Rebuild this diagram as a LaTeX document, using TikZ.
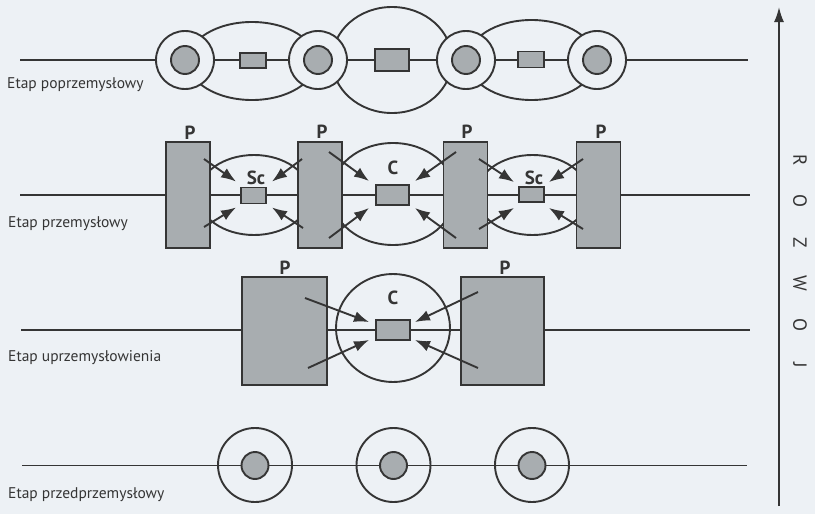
\documentclass[tikz,border=0pt]{standalone}
\usepackage{fontspec}
\setmainfont{PT Sans}
\usetikzlibrary{arrows.meta,calc,shapes.geometric}
\definecolor{bg}{HTML}{EDF1F5}
\definecolor{ink}{HTML}{353535}
\definecolor{shade}{HTML}{A8ADB0}
\begin{document}
\begin{tikzpicture}[x=1pt,y=-1pt,
  ln/.style={draw=ink, line width=1.9pt},
  oval/.style={ellipse, draw=ink, line width=1.9pt, inner sep=0pt},
  ringw/.style={circle, draw=ink, fill=bg, line width=1.9pt, inner sep=0pt, minimum size=#1},
  ring/.style={circle, draw=ink, line width=1.9pt, inner sep=0pt, minimum size=#1},
  core/.style={circle, draw=ink, fill=shade, line width=1.9pt, inner sep=0pt, minimum size=#1},
  box/.style={rectangle, draw=ink, fill=shade, line width=1.9pt, inner sep=0pt},
  arr/.style={draw=ink, line width=1.9pt, -{Latex[length=15pt,width=11pt]}},
  lab/.style={anchor=base west, text=ink, inner sep=0pt, font=\fontsize{15.5}{17}\selectfont},
  plab/.style={text=ink, inner sep=0pt, font=\bfseries\fontsize{19}{21}\selectfont}
]
\fill[bg] (0,0) rectangle (815,514);
\useasboundingbox (0,0) rectangle (815,514);

% ---------- Row 1: Etap poprzemyslowy ----------
\coordinate (a1) at (20,60);
\coordinate (b1) at (748,60);
\draw[ln] (a1) -- (b1);
\node[oval, minimum width=128, minimum height=78] (e11) at (252,61) {};
\node[oval, minimum width=120, minimum height=106] (e12) at (392,60) {};
\node[oval, minimum width=128, minimum height=80] (e13) at (531.5,60) {};
\foreach \i/\x in {1/185,2/318,3/466,4/597}{
  \node[ringw=58] (o1\i) at (\x,60) {};
  \node[core=28] (k1\i) at (\x,60) {};
}
\node[box, minimum width=26, minimum height=15] (r11) at (253,60.5) {};
\node[box, minimum width=34, minimum height=22] (r12) at (392,60) {};
\node[box, minimum width=26, minimum height=16] (r13) at (531,59.5) {};
\node[lab] (t1) at (7,88) {Etap poprzemysłowy};

% ---------- Row 2: Etap przemyslowy ----------
\coordinate (a2) at (20,195);
\coordinate (b2) at (750,195);
\draw[ln] (a2) -- (b2);
\node[oval, minimum width=112, minimum height=80] (e21) at (254,195) {};
\node[oval, minimum width=124, minimum height=102] (e22) at (393,194) {};
\node[oval, minimum width=112, minimum height=80] (e23) at (532.5,195) {};
\foreach \i/\x in {1/188,2/320,3/465.5,4/598.5}{
  \node[box, minimum width=44, minimum height=106] (p2\i) at (\x,195) {};
}
\node[plab] (pl21) at (190,133) {P};
\node[plab] (pl22) at (322,132) {P};
\node[plab] (pl23) at (467,132) {P};
\node[plab] (pl24) at (601,132) {P};
\node[box, minimum width=25, minimum height=16] (sc1) at (253.5,195.5) {};
\node[box, minimum width=33, minimum height=20] (c2) at (392.5,195) {};
\node[box, minimum width=25, minimum height=15] (sc2) at (531.5,194.5) {};
\node[plab] (lsc1) at (256,178) {Sc};
\node[plab] (lc2) at (393,168) {C};
\node[plab] (lsc2) at (534,178) {Sc};
% arrows row 2
\coordinate (s1a) at (204,159); \coordinate (s1b) at (204,227);
\coordinate (s1c) at (302,159); \coordinate (s1d) at (303,228);
\coordinate (s2a) at (329,152); \coordinate (s2b) at (329,238);
\coordinate (s2c) at (456,152); \coordinate (s2d) at (456,238);
\coordinate (s3a) at (479,159); \coordinate (s3b) at (479,229);
\coordinate (s3c) at (583,159); \coordinate (s3d) at (583,229);
\draw[arr] (s1a) -- ($(sc1.north west)+(-4,-5)$);
\draw[arr] (s1b) -- ($(sc1.south west)+(-4,3)$);
\draw[arr] (s1c) -- ($(sc1.north east)+(5,-5)$);
\draw[arr] (s1d) -- ($(sc1.south east)+(5,3)$);
\draw[arr] (s2a) -- ($(c2.north west)+(-6,-3)$);
\draw[arr] (s2b) -- ($(c2.south west)+(-6,2)$);
\draw[arr] (s2c) -- ($(c2.north east)+(5,-3)$);
\draw[arr] (s2d) -- ($(c2.south east)+(5,2)$);
\draw[arr] (s3a) -- ($(sc2.north west)+(-4,-4)$);
\draw[arr] (s3b) -- ($(sc2.south west)+(-4,5)$);
\draw[arr] (s3c) -- ($(sc2.north east)+(4,-4)$);
\draw[arr] (s3d) -- ($(sc2.south east)+(4,5)$);
\node[lab] (t2) at (8,227) {Etap przemysłowy};

% ---------- Row 3: Etap uprzemyslowienia ----------
\coordinate (a3) at (21,330);
\coordinate (b3) at (750,330);
\draw[ln] (a3) -- (b3);
\node[oval, minimum width=114, minimum height=108] (e31) at (393,328) {};
\node[box, minimum width=85, minimum height=108] (q1) at (284.5,331) {};
\node[box, minimum width=83, minimum height=108] (q2) at (502.5,331) {};
\node[plab] (pl31) at (285,268) {P};
\node[plab] (pl32) at (505,268) {P};
\node[box, minimum width=34, minimum height=20] (c3) at (393,330) {};
\node[plab] (lc3) at (393,298) {C};
\coordinate (u1) at (305,298); \coordinate (u2) at (308,368);
\coordinate (u3) at (478,292); \coordinate (u4) at (478,368);
\draw[arr] (u1) -- ($(c3.north west)+(-6,3)$);
\draw[arr] (u2) -- ($(c3.south west)+(-6,-1)$);
\draw[arr] (u3) -- ($(c3.north east)+(4,3)$);
\draw[arr] (u4) -- ($(c3.south east)+(4,-1)$);
\node[lab] (t3) at (8,361) {Etap uprzemysłowienia};

% ---------- Row 4: Etap przedprzemyslowy ----------
\coordinate (a4) at (22,465.5);
\coordinate (b4) at (747,465.5);
\draw[ln] (a4) -- (b4);
\foreach \i/\x in {1/255,2/393.5,3/532}{
  \node[ring=74] (o4\i) at (\x,465) {};
  \node[core=27] (k4\i) at (\x,465.5) {};
}
\node[lab] (t4) at (8,498) {Etap przedprzemysłowy};

% ---------- development axis ----------
\coordinate (v0) at (779,506);
\coordinate (v1) at (779,7);
\draw[draw=ink, line width=1.9pt, -{Latex[length=15pt,width=10pt]}] (v0) -- (v1);
\node[rotate=-90, text=ink, inner sep=0pt, font=\fontsize{19}{21}\selectfont] (rozwoj) at (800,263)
  {\makebox[41pt]{R}\makebox[41pt]{O}\makebox[41pt]{Z}\makebox[41pt]{W}\makebox[41pt]{O}\makebox[41pt]{J}};
\end{tikzpicture}
\end{document}
